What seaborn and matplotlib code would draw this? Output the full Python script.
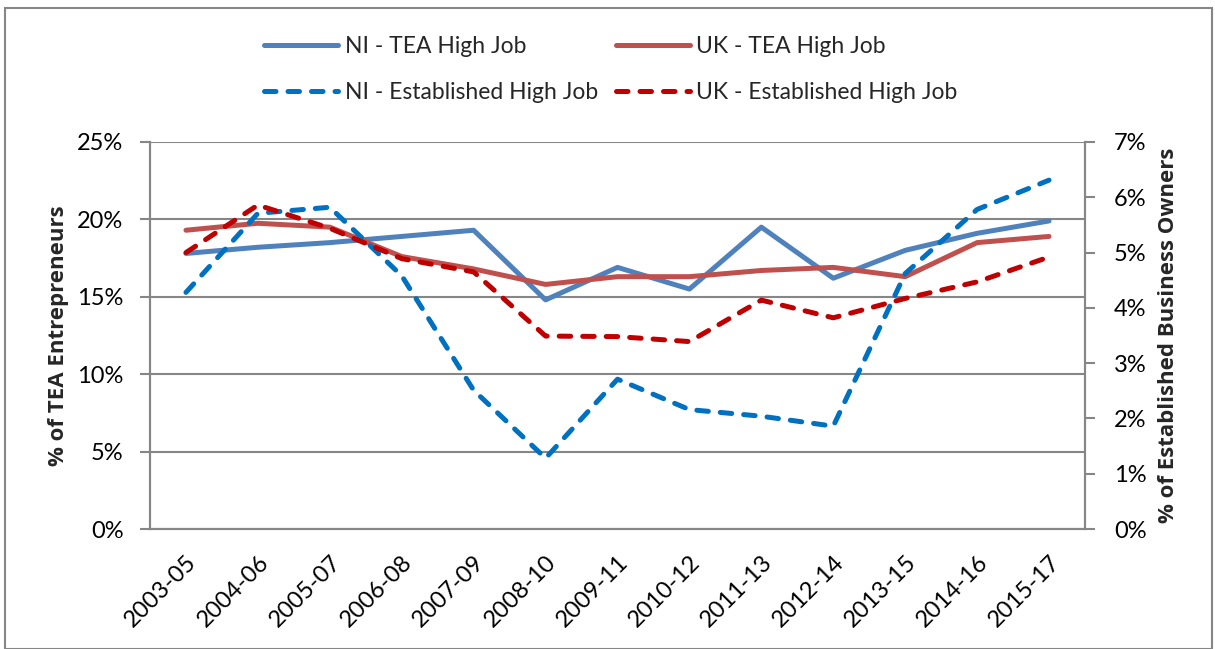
import numpy as np
import pandas as pd
import matplotlib
matplotlib.use("Agg")
import matplotlib.pyplot as plt
import seaborn as sns
from matplotlib.lines import Line2D
from matplotlib.patches import Rectangle
from matplotlib.ticker import FuncFormatter, MultipleLocator

# data
periods = ["2003-05", "2004-06", "2005-07", "2006-08", "2007-09", "2008-10", "2009-11",
           "2010-12", "2011-13", "2012-14", "2013-15", "2014-16", "2015-17"]
ni_tea = [17.8, 18.2, 18.5, 18.9, 19.3, 14.8, 16.9, 15.5, 19.5, 16.2, 18.0, 19.1, 19.9]
uk_tea = [19.3, 19.75, 19.5, 17.6, 16.8, 15.8, 16.3, 16.3, 16.7, 16.9, 16.3, 18.5, 18.9]
ni_est = [4.28, 5.71, 5.82, 4.58, 2.51, 1.28, 2.71, 2.16, 2.04, 1.86, 4.62, 5.78, 6.31]
uk_est = [5.0, 5.86, 5.44, 4.89, 4.65, 3.49, 3.48, 3.39, 4.14, 3.82, 4.17, 4.47, 4.92]

df = pd.DataFrame({"period": periods, "ni_tea": ni_tea, "uk_tea": uk_tea,
                   "ni_est": ni_est, "uk_est": uk_est})

sns.set_theme(style="white")
plt.rcParams["font.family"] = ["Lato", "DejaVu Sans"]

fig = plt.figure(figsize=(12.15, 6.49), dpi=100)
ax = fig.add_axes([150 / 1215, 1 - 529 / 649, 935 / 1215, 387 / 649])
ax2 = ax.twinx()

grey = "#868686"
c_ni_tea, c_uk_tea = "#4F81BD", "#C0504D"
c_ni_est, c_uk_est = "#0070C0", "#C00000"
lw = 3.6
dash = (2.3, 2.4)

# TEA on the left axis, established owners on the right one
sns.lineplot(data=df, x="period", y="ni_tea", ax=ax, color=c_ni_tea, lw=lw, sort=False)
sns.lineplot(data=df, x="period", y="uk_tea", ax=ax, color=c_uk_tea, lw=lw, sort=False)
sns.lineplot(data=df, x="period", y="ni_est", ax=ax2, color=c_ni_est, lw=lw, sort=False,
             ls=(0, dash))
sns.lineplot(data=df, x="period", y="uk_est", ax=ax2, color=c_uk_est, lw=lw, sort=False,
             ls=(0, dash))
for l in ax2.get_lines():
    l.set_dash_capstyle("round")

ax.set_xlim(-0.5, len(periods) - 0.5)
ax.set_ylim(0, 25)
ax2.set_ylim(0, 7)
ax.yaxis.set_major_locator(MultipleLocator(5))
ax2.yaxis.set_major_locator(MultipleLocator(1))
pct = FuncFormatter(lambda v, p: f"{v:.0f}%")
ax.yaxis.set_major_formatter(pct)
ax2.yaxis.set_major_formatter(pct)

ax.grid(axis="y", color=grey, lw=1.5)
ax.set_axisbelow(True)

for a in (ax, ax2):
    a.spines["top"].set_visible(False)
    for s in ("left", "right", "bottom"):
        a.spines[s].set_color(grey)
        a.spines[s].set_linewidth(1.5)

ax.set_xticks(range(len(periods)))
ax.set_xticklabels(periods, rotation=45, ha="right", rotation_mode="anchor")
ax.set_xticks(np.arange(-0.5, len(periods)), minor=True)
ax.tick_params(axis="x", which="major", length=0, pad=16, labelsize=17)
ax.tick_params(axis="x", which="minor", length=7, width=1.5, color=grey, direction="out")
ax.tick_params(axis="y", length=7, width=1.5, color=grey, direction="out", labelsize=17, pad=12,
               left=True)
ax2.tick_params(axis="y", length=7, width=1.5, color=grey, direction="out", labelsize=17, pad=14,
                right=True)
for a in (ax, ax2):
    for t in a.get_xticklabels() + a.get_yticklabels():
        t.set_color("black")

ax.set_xlabel("")
ax.set_ylabel("% of TEA Entrepreneurs", fontsize=16, fontweight="bold", family="Open Sans",
              labelpad=6)
ax2.set_ylabel("% of Established Business Owners", fontsize=16, fontweight="bold",
               family="Open Sans", labelpad=8)

handles = [
    Line2D([], [], color=c_ni_tea, lw=lw),
    Line2D([], [], color=c_ni_est, lw=lw, ls=(0, dash), dash_capstyle="round"),
    Line2D([], [], color=c_uk_tea, lw=lw),
    Line2D([], [], color=c_uk_est, lw=lw, ls=(0, dash), dash_capstyle="round"),
]
labels = ["NI - TEA High Job", "NI - Established High Job",
          "UK - TEA High Job", "UK - Established High Job"]
fig.legend(handles, labels, ncol=2, loc="upper center", bbox_to_anchor=(0.503, 0.977),
           frameon=False, fontsize=16.5, handlelength=3.2, columnspacing=0.8,
           labelspacing=1.13, handletextpad=0.3)

fig.patches.append(Rectangle((5 / 1215, 0), 1207 / 1215, 1 - 8 / 649, transform=fig.transFigure,
                             fill=False, edgecolor=grey, lw=1.5))

fig.savefig("out.png", dpi=100)
